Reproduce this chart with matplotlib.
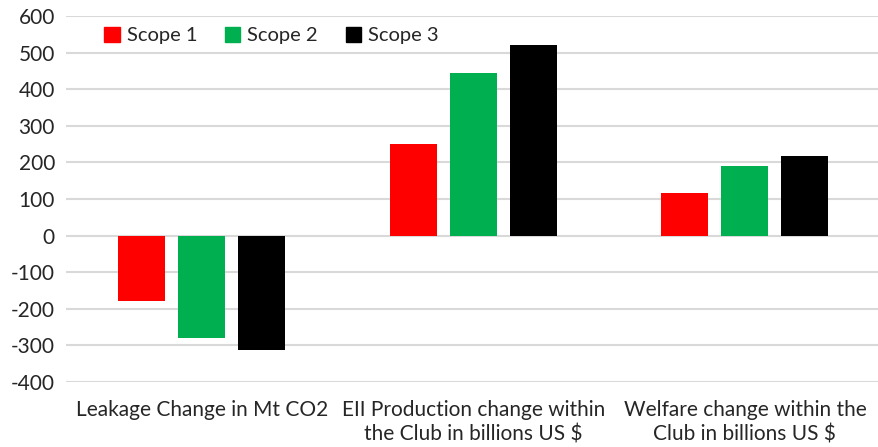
import numpy as np
import matplotlib.pyplot as plt
from matplotlib.patches import Patch

# Valeurs par catégorie et par scope
categories = ["Leakage Change in Mt CO2",
              "EII Production change within\nthe Club in billions US $",
              "Welfare change within the\nClub in billions US $"]
scope1 = [-178, 251, 117]
scope2 = [-281, 443, 191]
scope3 = [-312, 520, 218]
series = ["Scope 1", "Scope 2", "Scope 3"]
colors = ["#ff0000", "#00b050", "#000000"]

plt.rcParams['font.family'] = ['Lato', 'DejaVu Sans']
plt.rcParams['axes.unicode_minus'] = False

fig = plt.figure(figsize=(8.79, 4.47), dpi=100)
ax = fig.add_axes([66 / 879, 1 - 382 / 447, 812 / 879, 366 / 447])

x = np.arange(len(categories))
largeur = 0.173
pas = 0.221
for i, (vals, nom, c) in enumerate(zip([scope1, scope2, scope3], series, colors)):
    ax.bar(x + (i - 1) * pas, vals, largeur, color=c, label=nom, zorder=3)

ax.set_ylim(-400, 600)
ax.set_yticks(np.arange(-400, 601, 100))
ax.set_xlim(-0.5, 2.49)
ax.set_xticks(x)
ax.set_xticklabels(categories, fontsize=15, color="#262626", linespacing=1.25)
ax.tick_params(axis='y', labelsize=15, labelcolor="#262626", length=0, pad=8)
ax.tick_params(axis='x', length=0, pad=13)
ax.grid(axis='y', color="#d9d9d9", linewidth=1.5, zorder=0)
for s in ax.spines.values():
    s.set_visible(False)

poignees = [Patch(color=c) for c in colors]
ax.legend(poignees, series, loc='upper left', bbox_to_anchor=(0.025, 1.02),
          ncol=3, frameon=False, fontsize=14.5, handlelength=0.75, handleheight=0.75,
          handletextpad=0.35, columnspacing=1.4, labelcolor="#262626")

fig.savefig("out.png", dpi=100)
